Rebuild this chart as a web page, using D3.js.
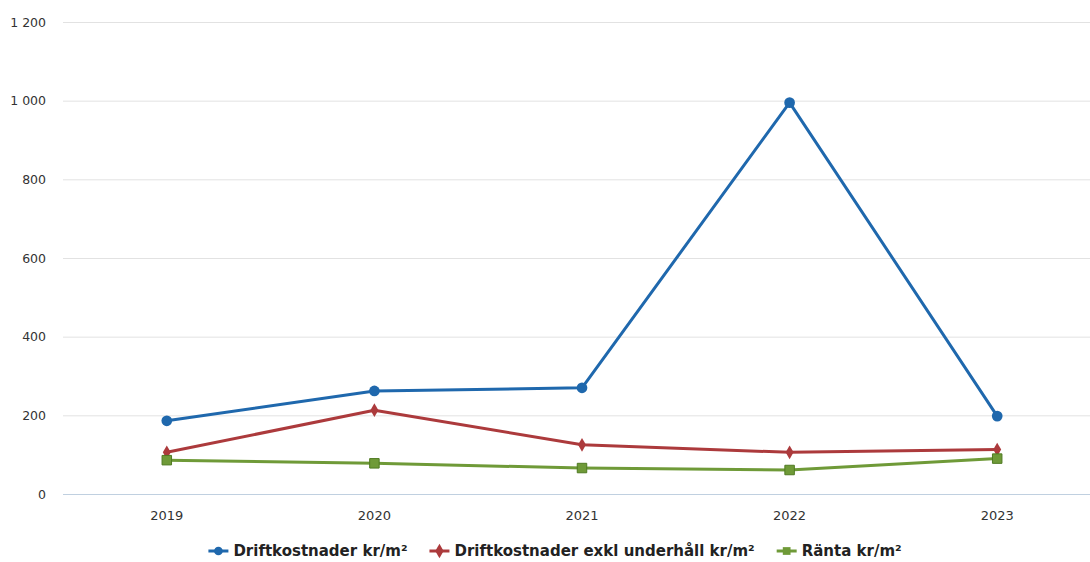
<!DOCTYPE html>
<html>
<head>
<meta charset="utf-8">
<script src="https://cdn.jsdelivr.net/npm/d3@7"></script>
<style>
  body { margin: 0; background: #fff; }
  svg { display: block; font-family: "DejaVu Sans", Verdana, sans-serif; }
</style>
</head>
<body>
<svg id="chart" width="1090" height="562"></svg>
<script>
const years = ["2019", "2020", "2021", "2022", "2023"];
const drift = [186, 262, 270, 995, 198];
const driftExkl = [106, 213, 125, 106, 113];
const ranta = [86, 78, 66, 61, 90];
const yTicks = [0, 200, 400, 600, 800, 1000, 1200];

const series = [
  { name: "Driftkostnader kr/m²", values: drift, color: "#1f68ad", symbol: d3.symbolCircle },
  { name: "Driftkostnader exkl underhåll kr/m²", values: driftExkl, color: "#ac3a3c", symbol: d3.symbolDiamond },
  { name: "Ränta kr/m²", values: ranta, color: "#6f9a38", symbol: d3.symbolSquare },
];

const svg = d3.select("#chart");
// plot area
const plot = { left: 63, right: 1101, top: 22, bottom: 494 };

const x = d3.scaleBand().domain(years).range([plot.left, plot.right]);
const y = d3.scaleLinear().domain([0, 1200]).range([plot.bottom, plot.top]);

// number format with space as thousands separator
const fmt = d3.formatLocale({ decimal: ",", thousands: " ", grouping: [3], currency: ["", " kr"] }).format(",d");

// Gridlines + y labels
const axisY = d3.axisLeft(y).tickValues(yTicks).tickSize(0).tickFormat(fmt);
svg.append("g")
  .attr("transform", `translate(${plot.left},0)`)
  .call(axisY)
  .call(g => g.select(".domain").remove())
  .call(g => g.selectAll(".tick line").clone()
    .attr("x1", 0).attr("x2", 1090 - plot.left)
    .attr("stroke", d => d === 0 ? "#c0d0e0" : "#e2e2e2")
    .attr("stroke-width", 1))
  .call(g => g.selectAll(".tick text")
    .attr("x", -17)
    .attr("fill", "#333")
    .attr("font-size", 12.5)
    .attr("font-family", "DejaVu Sans, sans-serif"));

// X axis labels
const axisX = d3.axisBottom(x).tickSize(0).tickPadding(0);
svg.append("g")
  .attr("transform", `translate(0,${plot.bottom})`)
  .call(axisX)
  .call(g => g.select(".domain").remove())
  .call(g => g.selectAll(".tick text")
    .attr("y", 17)
    .attr("fill", "#333")
    .attr("font-size", 13)
    .attr("font-family", "DejaVu Sans, sans-serif"));

const cx = d => x(d) + x.bandwidth() / 2;
const line = d3.line().x((v, i) => cx(years[i])).y(v => y(v));

series.forEach(s => {
  const g = svg.append("g");
  g.append("path")
    .datum(s.values)
    .attr("d", line)
    .attr("fill", "none")
    .attr("stroke", s.color)
    .attr("stroke-width", 3)
    .attr("stroke-linejoin", "round");
  g.selectAll("path.pt")
    .data(s.values)
    .join("path")
    .attr("class", "pt")
    .attr("transform", (v, i) => `translate(${cx(years[i])},${y(v)})`)
    .attr("d", d3.symbol(s.symbol, s.symbol === d3.symbolDiamond ? 55 : 90))
    .attr("fill", s.color)
    .attr("stroke", s.symbol === d3.symbolSquare ? "#4f7a22" : "none");
});

// Legend
const legend = svg.append("g").attr("transform", "translate(0,551)");
const items = legend.selectAll("g")
  .data(series)
  .join("g");
items.append("line")
  .attr("x1", 0).attr("x2", 20)
  .attr("stroke", d => d.color).attr("stroke-width", 3);
items.append("path")
  .attr("transform", "translate(10,0)")
  .attr("d", d => d3.symbol(d.symbol, 60)())
  .attr("fill", d => d.color);
items.append("text")
  .attr("x", 25).attr("dy", "0.35em")
  .attr("font-size", 15)
  .attr("font-weight", "bold")
  .attr("fill", "#222")
  .text(d => d.name);

let widths = [];
items.each(function () { widths.push(this.getBBox().width); });
const gap = 22;
const total = d3.sum(widths) + gap * (widths.length - 1);
let pos = 555 - total / 2;
items.attr("transform", (d, i) => {
  const t = `translate(${pos},0)`;
  pos += widths[i] + gap;
  return t;
});
</script>
</body>
</html>
